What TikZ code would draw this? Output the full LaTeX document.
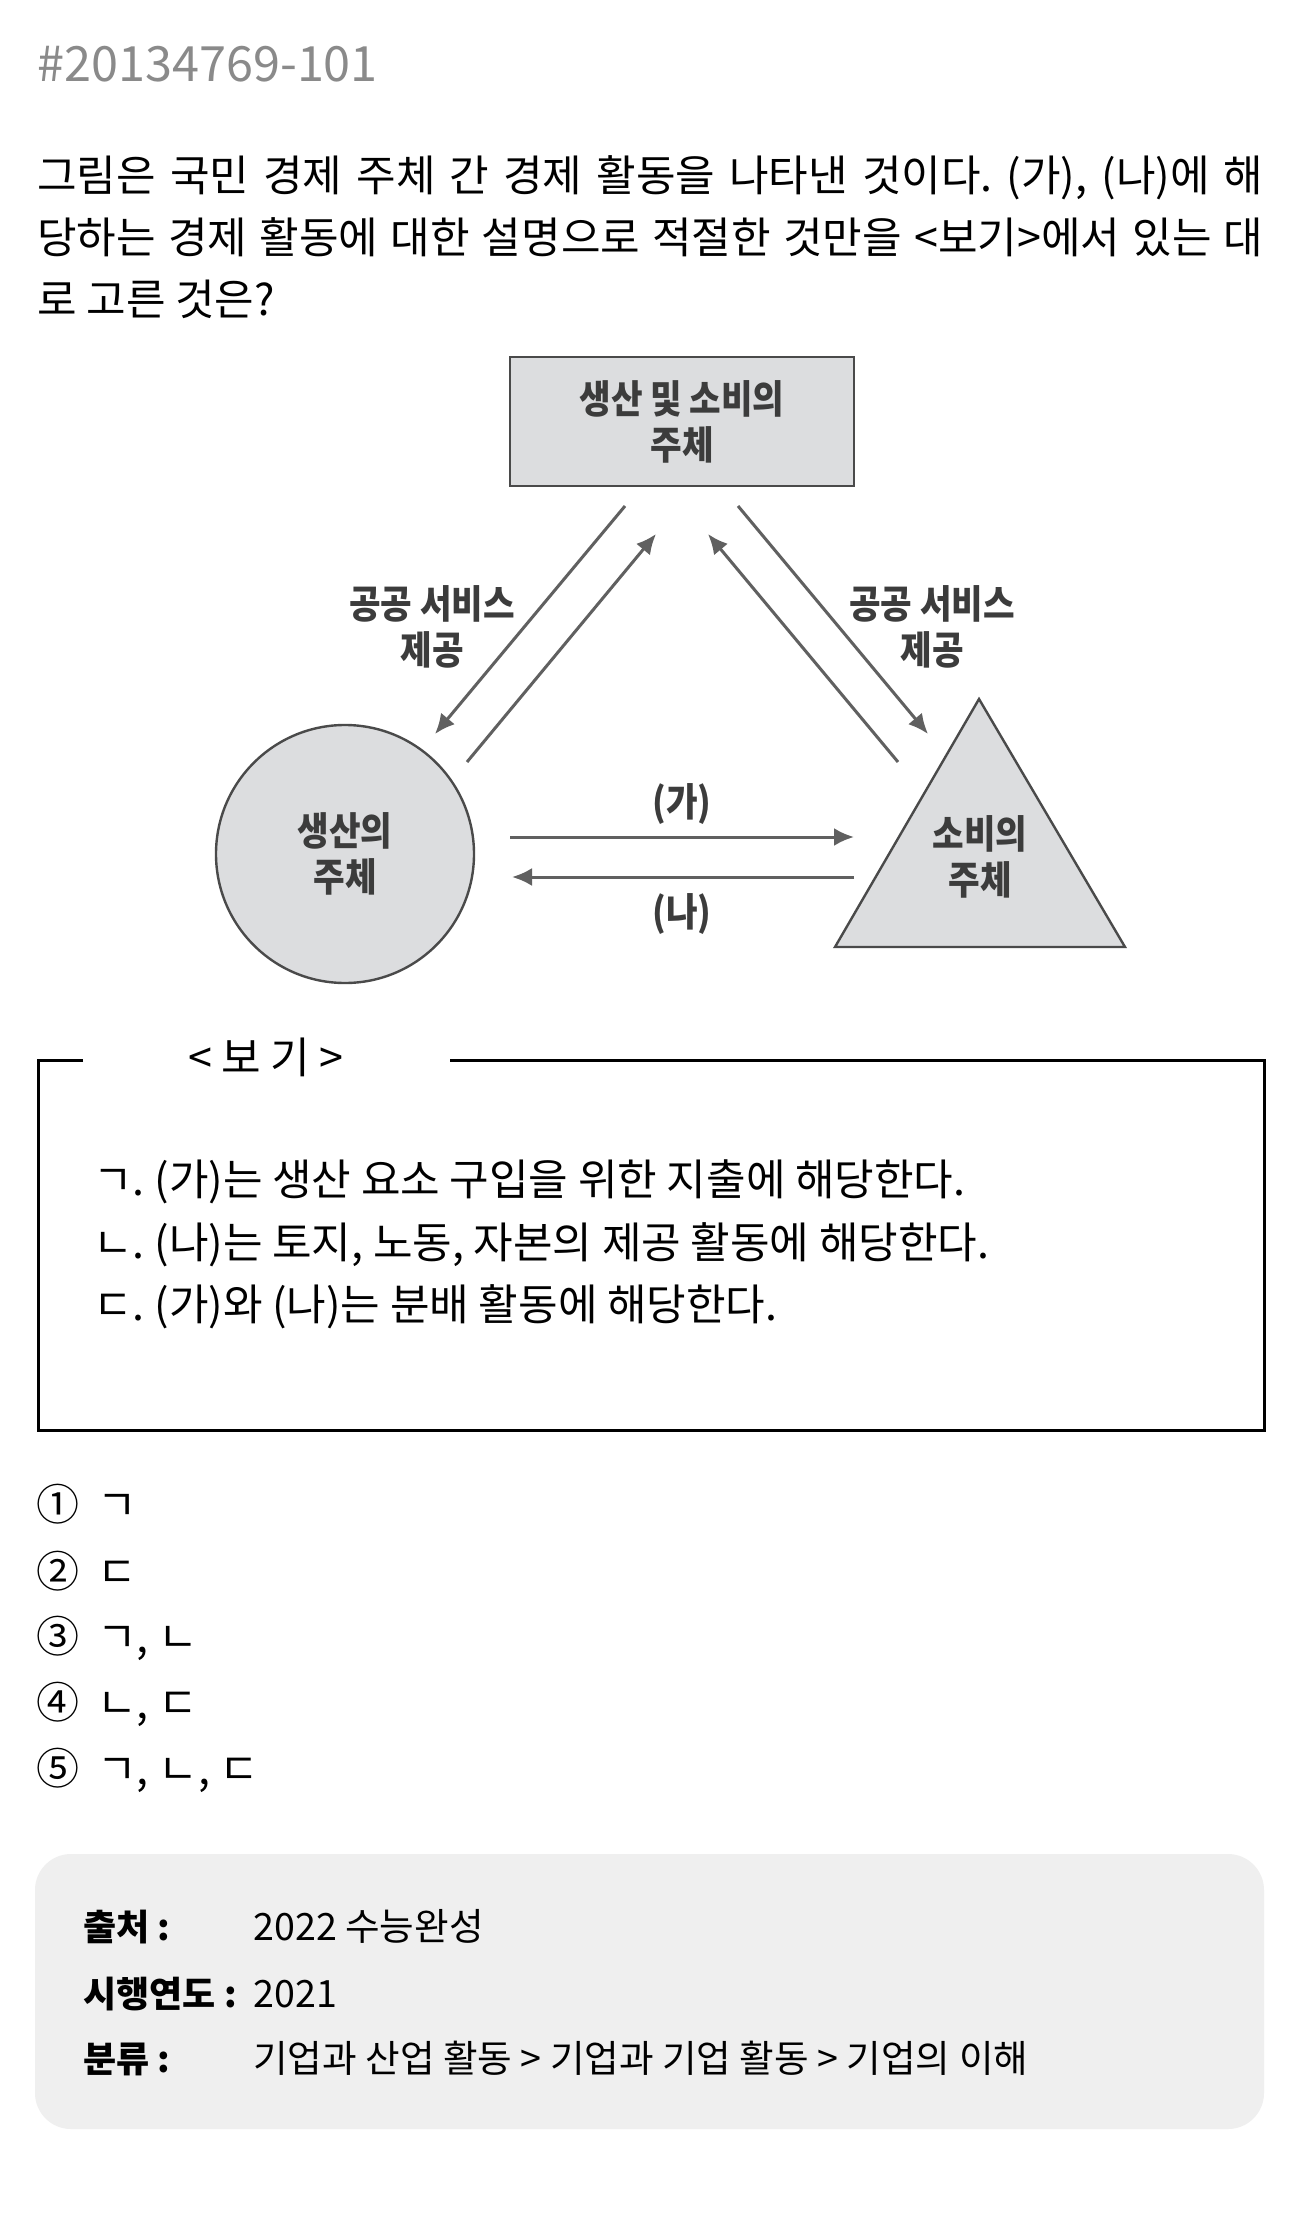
\documentclass[tikz,border=0pt]{standalone}
\usepackage{fontspec}
\setmainfont{Noto Sans CJK KR}
\newfontfamily\diagfont[FakeStretch=0.88]{Noto Sans CJK KR}
\usetikzlibrary{arrows.meta}
\frenchspacing

\definecolor{idgray}{HTML}{8A8A8A}
\definecolor{shapefill}{HTML}{DCDDDF}
\definecolor{shapeline}{HTML}{4A4A4A}
\definecolor{flowgray}{HTML}{606060}
\definecolor{diagtext}{HTML}{3C3C3C}
\definecolor{infofill}{HTML}{EFEFEF}

\tikzset{
  body/.style={font=\fontsize{21.5pt}{31pt}\selectfont, inner sep=0pt, anchor=base west},
  infotext/.style={body, font=\fontsize{18.8pt}{31pt}\selectfont},
  infokey/.style={body, font=\bfseries\fontsize{18pt}{31pt}\selectfont},
  agent/.style={draw=shapeline, line width=1.2pt, fill=shapefill, text=diagtext,
    align=center, font=\diagfont\bfseries\fontsize{19.5pt}{23pt}\selectfont},
  flow/.style={draw=flowgray, line width=1.5pt, -{Latex[length=10pt,width=9pt]}},
  flowlabel/.style={text=diagtext, align=center, inner sep=0pt,
    font=\diagfont\bfseries\fontsize{19.5pt}{23pt}\selectfont},
}

\begin{document}
\begin{tikzpicture}[x=0.5pt,y=-0.5pt]
\useasboundingbox (0,0) rectangle (1302,2214);
\fill[white] (0,0) rectangle (1302,2214);

% Question number and stem
\node[body, text=idgray, font=\fontsize{24.3pt}{28pt}\selectfont] (qid) at (37,82) {\#20134769-101};
\node[body] (stem1) at (37,192) {\makebox[613pt][s]{그림은 국민 경제 주체 간 경제 활동을 나타낸 것이다. (가), (나)에 해}};
\node[body] (stem2) at (37,254) {\makebox[613pt][s]{당하는 경제 활동에 대한 설명으로 적절한 것만을 <보기>에서 있는 대}};
\node[body] (stem3) at (37,316) {로 고른 것은?};

% Economic agents
\node[agent, rectangle, minimum width=172pt, minimum height=64.5pt] (both) at (682,421.5) {생산 및 소비의\\주체};
\node[agent, circle, minimum size=129pt] (firm) at (345,854) {생산의\\주체};
\draw[draw=shapeline, line width=1.2pt, fill=shapefill] (979,699) -- (835,947) -- (1125,947) -- cycle;
\node[flowlabel] (home) at (980,857) {소비의\\주체};

% Flows between the agents
\coordinate (l1a) at (625,506); \coordinate (l1b) at (435,734);
\coordinate (l2a) at (467,762); \coordinate (l2b) at (656,534);
\coordinate (r1a) at (738,506); \coordinate (r1b) at (928,734);
\coordinate (r2a) at (898,762); \coordinate (r2b) at (708,534);
\coordinate (h1a) at (510,837); \coordinate (h1b) at (854,837);
\coordinate (h2a) at (854,877); \coordinate (h2b) at (512,877);
\draw[flow] (l1a) -- (l1b);
\draw[flow] (l2a) -- (l2b);
\draw[flow] (r1a) -- (r1b);
\draw[flow] (r2a) -- (r2b);
\draw[flow] (h1a) -- (h1b);
\draw[flow] (h2a) -- (h2b);
\node[flowlabel] (pubL) at (432,627) {공공 서비스\\제공};
\node[flowlabel] (pubR) at (932,627) {공공 서비스\\제공};
\node[flowlabel] (ga) at (682,804) {(가)};
\node[flowlabel] (na) at (682,914) {(나)};

% <보기> box
\draw[line width=1.5pt] (83,1060) -- (38,1060) -- (38,1430) -- (1264,1430) -- (1264,1060) -- (450,1060);
\node[body, anchor=base] (bogi) at (266,1073) {< 보 기 >};
\node[body] (itemA) at (93,1195) {ㄱ. (가)는 생산 요소 구입을 위한 지출에 해당한다.};
\node[body] (itemB) at (93,1258) {ㄴ. (나)는 토지, 노동, 자본의 제공 활동에 해당한다.};
\node[body] (itemC) at (93,1320) {ㄷ. (가)와 (나)는 분배 활동에 해당한다.};

% Choices
\node[body] (opt1) at (36,1520) {①\hspace{9pt}ㄱ};
\node[body] (opt2) at (36,1587) {②\hspace{9pt}ㄷ};
\node[body] (opt3) at (36,1652) {③\hspace{9pt}ㄱ, ㄴ};
\node[body] (opt4) at (36,1718) {④\hspace{9pt}ㄴ, ㄷ};
\node[body] (opt5) at (36,1784) {⑤\hspace{9pt}ㄱ, ㄴ, ㄷ};

% Source info
\fill[infofill, rounded corners=18pt] (35,1854) rectangle (1264,2129);
\node[infokey] (srcKey) at (83,1940) {출처 :};
\node[infotext] (srcVal) at (253,1940) {2022 수능완성};
\node[infokey] (yearKey) at (83,2007) {시행연도 :};
\node[infotext] (yearVal) at (253,2007) {2021};
\node[infokey] (catKey) at (83,2072) {분류 :};
\node[infotext] (catVal) at (253,2072) {기업과 산업 활동 > 기업과 기업 활동 > 기업의 이해};

\end{tikzpicture}
\end{document}
